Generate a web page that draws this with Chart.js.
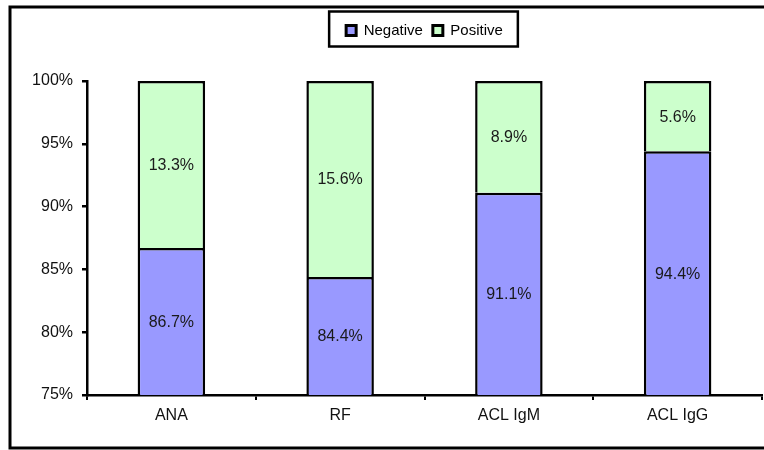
<!DOCTYPE html>
<html>
<head>
<meta charset="utf-8">
<script src="https://cdn.jsdelivr.net/npm/chart.js@4/dist/chart.umd.min.js"></script>
<style>
  html, body { margin: 0; padding: 0; background: #ffffff; }
  #wrap { width: 764px; height: 450px; }
</style>
</head>
<body>
<div id="wrap"><canvas id="c" width="764" height="450"></canvas></div>
<script>
// Test categories and the share of negative / positive results (%)
const categories = ['ANA', 'RF', 'ACL IgM', 'ACL IgG'];
const negative = [86.7, 84.4, 91.1, 94.4];
const positive = [13.3, 15.6, 8.9, 5.6];
const yTicks = [75, 80, 85, 90, 95, 100];

const FONT = '"Liberation Sans", Arial, sans-serif';

// Outer frame, legend box and in-bar percentage labels
const decorations = {
  id: 'decorations',
  beforeInit(chart) {
    // leave a gap between the legend and the plot area
    const legend = chart.legend;
    const fit = legend.fit;
    legend.fit = function () { fit.call(this); this.height += 33; };
  },
  afterDatasetsDraw(chart) {
    const ctx = chart.ctx;
    ctx.save();
    ctx.font = '16px ' + FONT;
    ctx.fillStyle = '#1a1a1a';
    ctx.textAlign = 'center';
    ctx.textBaseline = 'middle';
    chart.data.datasets.forEach((ds, di) => {
      const meta = chart.getDatasetMeta(di);
      meta.data.forEach((el, i) => {
        const top = Math.max(Math.min(el.y, el.base), chart.chartArea.top);
        const bottom = Math.min(Math.max(el.y, el.base), chart.chartArea.bottom);
        ctx.fillText(ds.data[i].toFixed(1) + '%', el.x, (top + bottom) / 2 + 1);
      });
    });
    ctx.restore();
  },
  afterDraw(chart) {
    const ctx = chart.ctx;
    ctx.save();
    ctx.strokeStyle = '#000';
    ctx.lineWidth = 3;
    ctx.strokeRect(10, 7, 800, 441);
    const boxes = chart.legend.legendHitBoxes;
    if (boxes && boxes.length) {
      const first = boxes[0];
      const last = boxes[boxes.length - 1];
      ctx.lineWidth = 2.5;
      ctx.strokeRect(first.left - 17, first.top - 11.5, (last.left + last.width + 15) - (first.left - 17), 35);
    }
    ctx.restore();
  }
};

new Chart(document.getElementById('c'), {
  type: 'bar',
  data: {
    labels: categories,
    datasets: [
      {
        label: 'Negative',
        data: negative,
        backgroundColor: '#9999FF',
        borderColor: '#000000',
        borderWidth: 2.5,
        categoryPercentage: 1,
        barPercentage: 0.4
      },
      {
        label: 'Positive',
        data: positive,
        backgroundColor: '#CCFFCC',
        borderColor: '#000000',
        borderWidth: 2.5,
        categoryPercentage: 1,
        barPercentage: 0.4
      }
    ]
  },
  options: {
    responsive: false,
    animation: false,
    devicePixelRatio: 1,
    layout: { padding: { top: 13, left: 0, right: 2, bottom: 0 } },
    plugins: {
      legend: {
        display: true,
        position: 'top',
        fullSize: false,
        labels: {
          font: { family: FONT, size: 15 },
          color: '#000',
          boxWidth: 10,
          boxHeight: 10,
          padding: 10,
          generateLabels(chart) {
            const items = Chart.defaults.plugins.legend.labels.generateLabels(chart);
            items.forEach(it => { it.lineWidth = 3; it.strokeStyle = '#000'; });
            return items;
          }
        }
      },
      tooltip: { enabled: false }
    },
    scales: {
      x: {
        stacked: true,
        grid: { display: true, drawOnChartArea: false, color: '#000', lineWidth: 2, tickLength: 5, offset: true },
        border: { display: true, color: '#000', width: 2.5 },
        ticks: { font: { family: FONT, size: 16 }, color: '#111', padding: 6, maxRotation: 0 },
        afterFit(scale) { scale.height = 55; }
      },
      y: {
        stacked: true,
        min: yTicks[0],
        max: yTicks[yTicks.length - 1],
        afterBuildTicks(scale) { scale.ticks = yTicks.map(v => ({ value: v })); },
        grid: { display: true, drawOnChartArea: false, color: '#000', lineWidth: 2.5, tickLength: 5 },
        border: { display: true, color: '#000', width: 2.5 },
        ticks: {
          font: { family: FONT, size: 16 },
          color: '#111',
          padding: 9,
          callback: v => v + '%'
        },
        afterFit(scale) { scale.width = 87; }
      }
    }
  },
  plugins: [decorations]
});
</script>
</body>
</html>
